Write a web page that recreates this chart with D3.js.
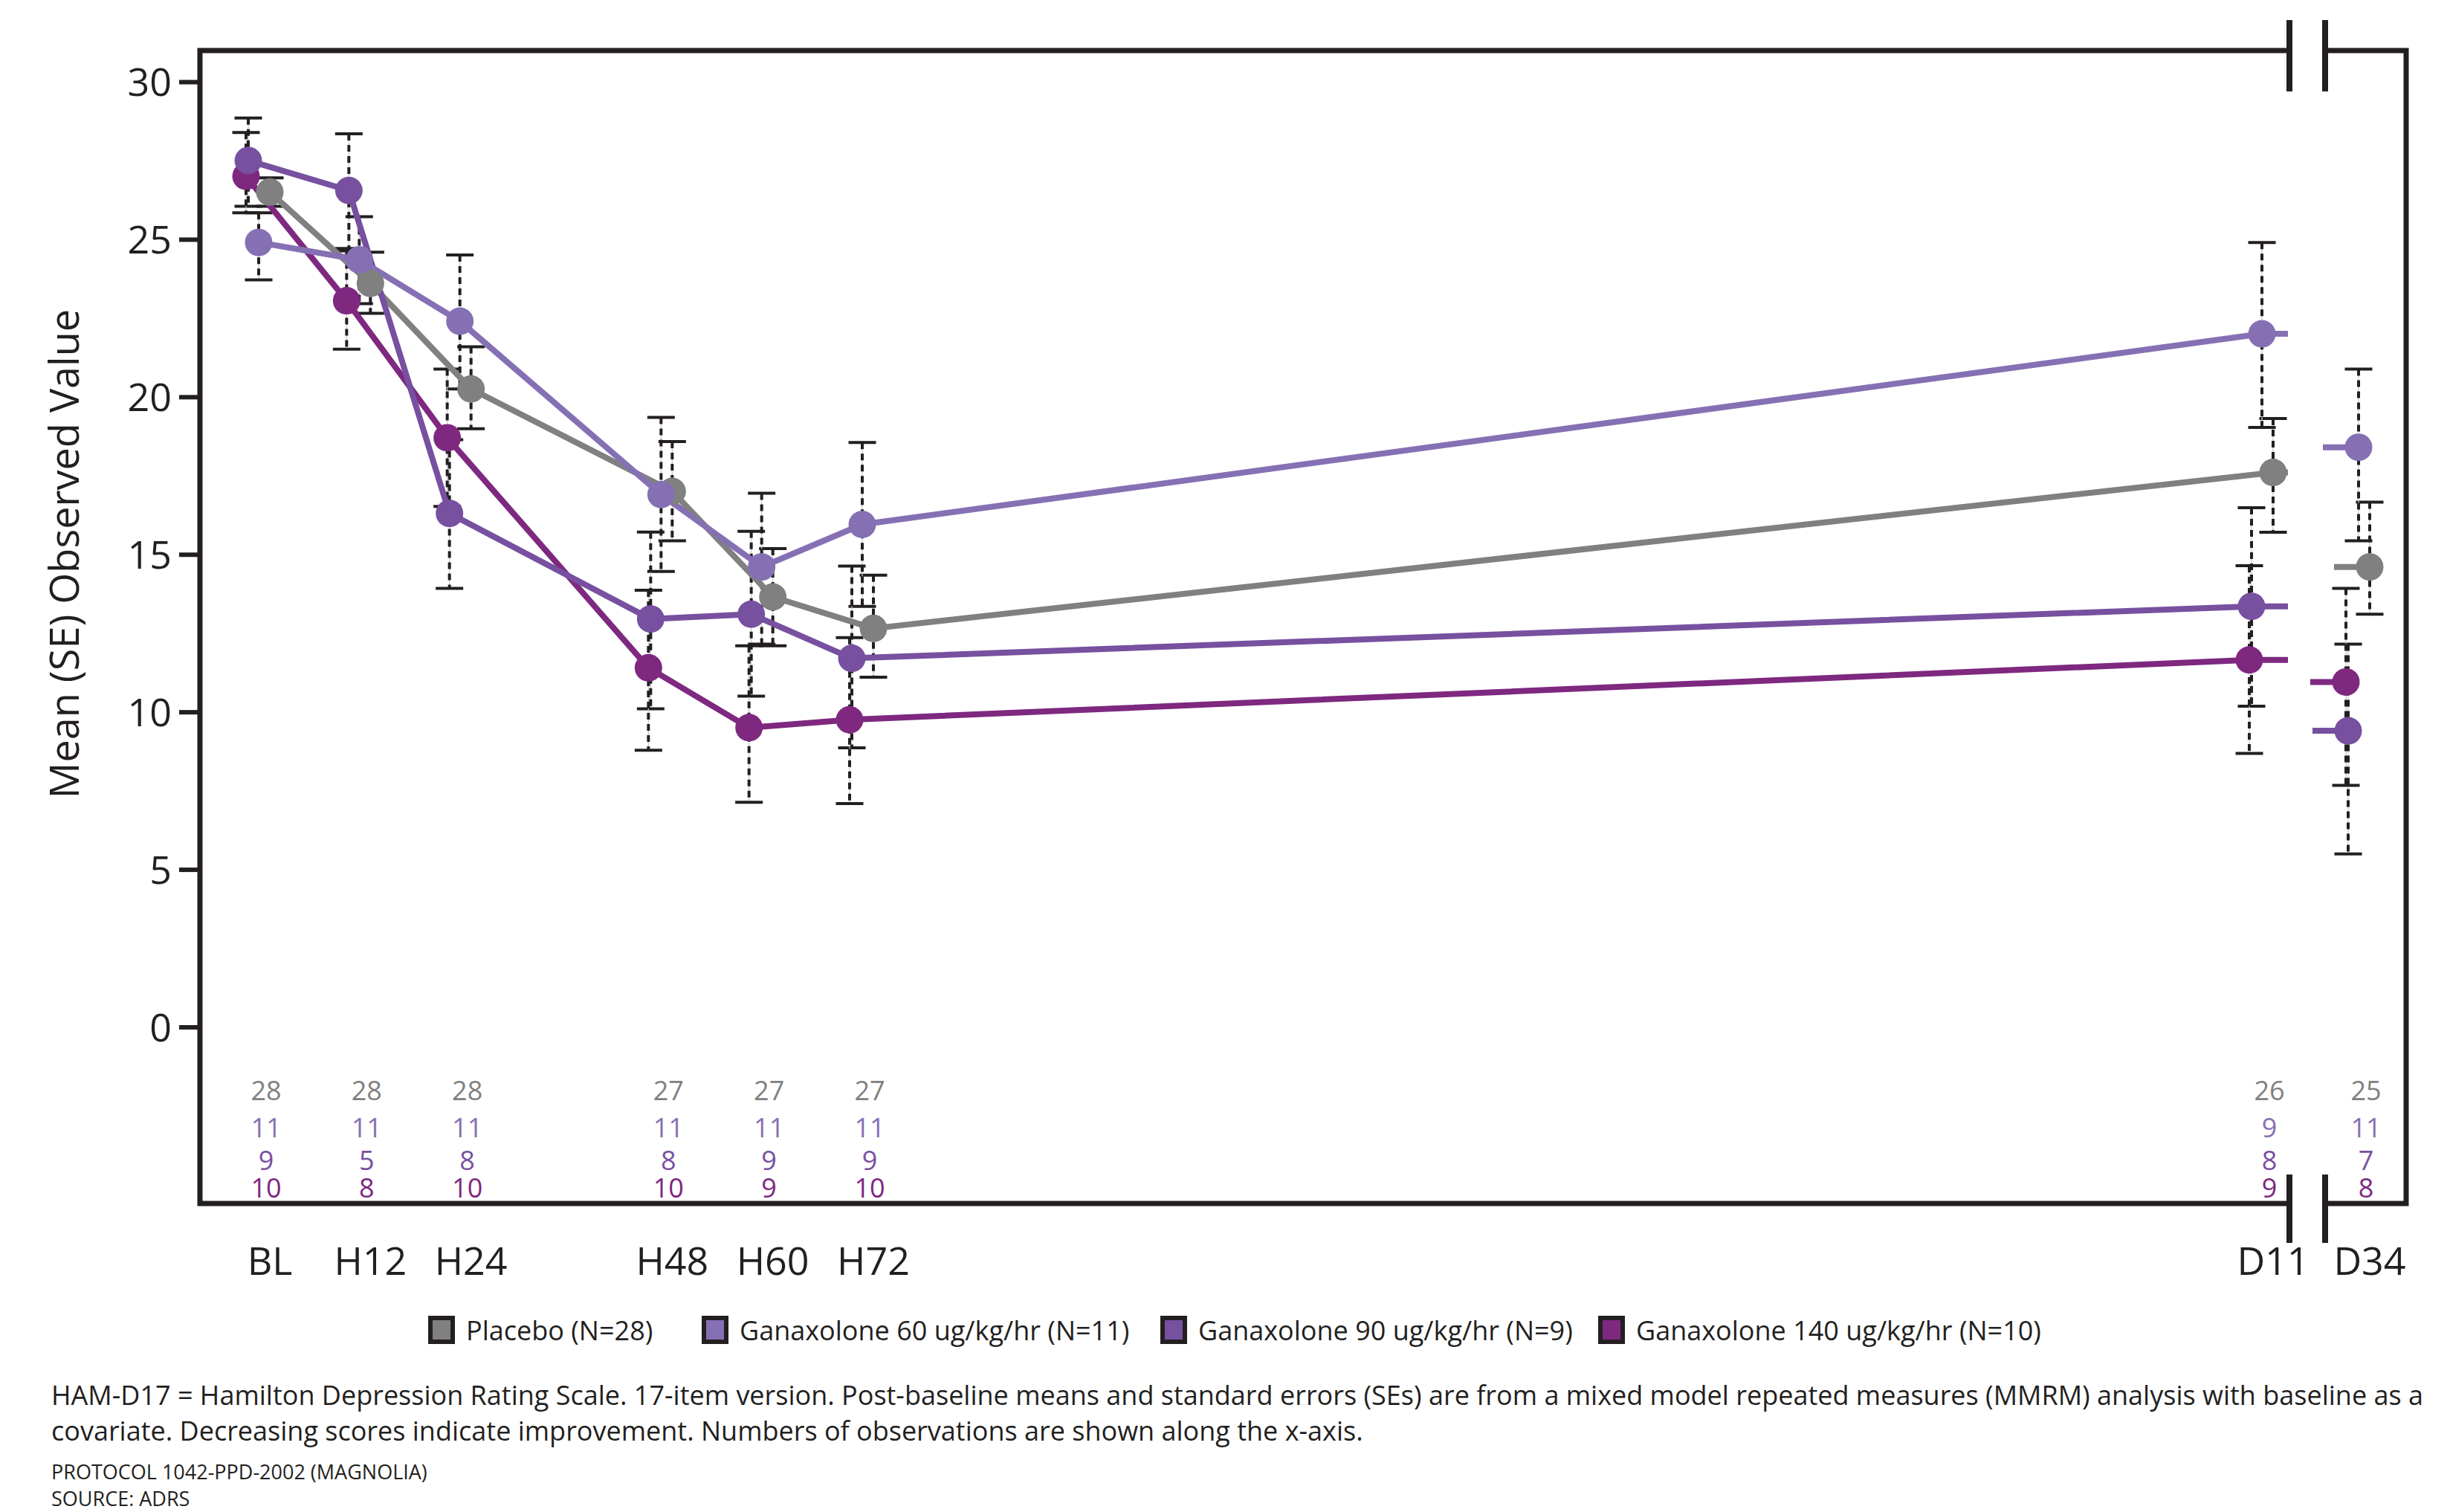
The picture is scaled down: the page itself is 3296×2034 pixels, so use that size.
<!DOCTYPE html>
<html><head><meta charset="utf-8">
<script src="https://cdn.jsdelivr.net/npm/d3@7"></script>
<style>
body{margin:0;background:#fff}
svg{display:block}
text{font-family:"Open Sans",sans-serif}
</style>
</head><body>
<script>
// ---------- data ----------
const timeLabels = ["BL","H12","H24","H48","H60","H72","D11","D34"];
const timeHours  = [0,12,24,48,60,72,264,816];
const seriesNames = ["Placebo (N=28)","Ganaxolone 60 ug/kg/hr (N=11)","Ganaxolone 90 ug/kg/hr (N=9)","Ganaxolone 140 ug/kg/hr (N=10)"];

const placeboMean = [26.5, 23.6, 20.25, 17.0, 13.65, 12.65, 17.6, 14.6];
const placeboLo   = [26.05,22.65,18.99, 15.43,12.1, 11.1, 15.7, 13.1];
const placeboHi   = [26.95,24.59,21.59, 18.58,15.18,14.34,19.31,16.66];

const g60Mean = [24.9, 24.35,22.4, 16.9, 14.6, 15.95,22.0, 18.4];
const g60Lo   = [23.71,22.96,20.25,14.46,12.15,13.35,19.03,15.43];
const g60Hi   = [25.84,25.72,24.5, 19.35,16.94,18.55,24.9, 20.88];

const g90Mean = [27.5, 26.55,16.3, 12.95,13.1, 11.7, 13.35,9.4];
const g90Lo   = [26.05,24.71,13.92,10.1, 10.5, 8.86, 10.18,5.49];
const g90Hi   = [28.85,28.35,18.64,15.71,15.73,14.63,16.48,12.15];

const g140Mean = [27.0, 23.05,18.7, 11.4, 9.5, 9.75, 11.65,10.95];
const g140Lo   = [25.84,21.51,16.52,8.78, 7.13,7.09, 8.68, 7.67];
const g140Hi   = [28.39,24.63,20.88,13.86,12.1,12.36,14.64,13.92];

const placeboN = [28,28,28,27,27,27,26,25];
const g60N     = [11,11,11,11,11,11,9,11];
const g90N     = [9,5,8,8,9,9,8,7];
const g140N    = [10,8,10,10,9,10,9,8];

const yTicks = [0,5,10,15,20,25,30];
const yTitle = "Mean (SE) Observed Value";
const footLines = [
  "HAM-D17 = Hamilton Depression Rating Scale. 17-item version. Post-baseline means and standard errors (SEs) are from a mixed model repeated measures (MMRM) analysis with baseline as a",
  "covariate. Decreasing scores indicate improvement. Numbers of observations are shown along the x-axis."
];
const protocolText = "PROTOCOL 1042-PPD-2002 (MAGNOLIA)";
const sourceText = "SOURCE: ADRS";

// ---------- styles ----------
const colors = ["#808080","#8670b4","#7750a0","#7e2880"];
const offsets = [16, 1, -13, -16];
const ink = "#231f20";

const series = [
  {name:seriesNames[0], mean:placeboMean, lo:placeboLo, hi:placeboHi, n:placeboN},
  {name:seriesNames[1], mean:g60Mean, lo:g60Lo, hi:g60Hi, n:g60N},
  {name:seriesNames[2], mean:g90Mean, lo:g90Lo, hi:g90Hi, n:g90N},
  {name:seriesNames[3], mean:g140Mean, lo:g140Lo, hi:g140Hi, n:g140N}
].map((s,i)=>({...s, color:colors[i], off:offsets[i],
  pts: timeHours.map((t,j)=>({t, m:s.mean[j], lo:s.lo[j], hi:s.hi[j]}))}));

const W = 3296, H = 2034;
const L = 269, R = 3237, T = 68, B = 1619, BR1 = 3080, BR2 = 3128;

const svg = d3.select("body").append("svg").attr("width",W).attr("height",H);

const x = d3.scaleLinear().domain([0,72,264,816]).range([347,1159,3042,3172]);
const y = d3.scaleLinear().domain([0,30]).range([1381.5,110]);

// ---------- frame ----------
const frame = svg.append("g").attr("stroke",ink).attr("stroke-width",7).attr("fill","none");
frame.append("path").attr("d",`M${BR1},${T}H${L}V${B}H${BR1}`);
frame.append("path").attr("d",`M${BR2},${T}H${R}V${B}H${BR2}`);
[BR1,BR2].forEach(bx=>{
  frame.append("line").attr("x1",bx).attr("x2",bx).attr("y1",27).attr("y2",123).attr("stroke-width",8);
  frame.append("line").attr("x1",bx).attr("x2",bx).attr("y1",1580).attr("y2",1672).attr("stroke-width",8);
});

// ---------- y axis ----------
const yAxis = svg.append("g").attr("transform",`translate(${L},0)`)
  .call(d3.axisLeft(y).tickValues(yTicks).tickSize(28).tickPadding(10));
yAxis.select(".domain").remove();
yAxis.selectAll(".tick line").attr("stroke",ink).attr("stroke-width",6);
yAxis.selectAll(".tick text").attr("fill",ink).attr("font-size",52)
  .attr("font-family","Open Sans, sans-serif").attr("dy","0.36em");

svg.append("text").attr("transform",`translate(106,745) rotate(-90)`)
  .attr("text-anchor","middle").attr("font-size",54).attr("fill",ink).text(yTitle);

// ---------- x labels ----------
svg.append("g").selectAll("text").data(timeLabels).join("text")
  .attr("x",(d,i)=>x(timeHours[i])+16).attr("y",1715)
  .attr("text-anchor","middle").attr("font-size",52).attr("fill",ink).text(d=>d);

// ---------- counts ----------
const countY = [1480,1530,1574,1611];
series.forEach((s,si)=>{
  svg.append("g").selectAll("text").data(s.n).join("text")
    .attr("x",(d,i)=>x(timeHours[i])+11).attr("y",countY[si])
    .attr("text-anchor","middle").attr("font-size",36).attr("fill",s.color).text(d=>d);
});

// ---------- error bars ----------
const eb = svg.append("g");
series.forEach(s=>{
  s.pts.forEach(p=>{
    const cx = x(p.t)+s.off;
    eb.append("line").attr("x1",cx).attr("x2",cx).attr("y1",y(p.hi)).attr("y2",y(p.lo))
      .attr("stroke","#c8c8c8").attr("stroke-width",1.2);
    eb.append("line").attr("x1",cx).attr("x2",cx).attr("y1",y(p.hi)).attr("y2",y(p.lo))
      .attr("stroke",ink).attr("stroke-width",4).attr("stroke-dasharray","9,6");
    [p.hi,p.lo].forEach(v=>{
      eb.append("line").attr("x1",cx-18.5).attr("x2",cx+18.5).attr("y1",y(v)).attr("y2",y(v))
        .attr("stroke",ink).attr("stroke-width",4);
    });
  });
});

// ---------- lines ----------
const order = [0,3,2,1];
const lg = svg.append("g").attr("fill","none").attr("stroke-width",8);
order.forEach(si=>{
  const s = series[si];
  const line = d3.line().x(d=>x(d.t)+s.off).y(d=>y(d.m));
  lg.append("path").attr("d",line(s.pts.slice(0,7))).attr("stroke",s.color).attr("stroke-linejoin","round");
  const d11 = s.pts[6], d34 = s.pts[7];
  lg.append("line").attr("x1",x(d11.t)+s.off).attr("x2",BR1-2).attr("y1",y(d11.m)).attr("y2",y(d11.m)).attr("stroke",s.color);
  lg.append("line").attr("x1",x(d34.t)+s.off-48).attr("x2",x(d34.t)+s.off).attr("y1",y(d34.m)).attr("y2",y(d34.m)).attr("stroke",s.color);
});

// ---------- markers ----------
order.forEach(si=>{
  const s = series[si];
  svg.append("g").selectAll("circle").data(s.pts).join("circle")
    .attr("cx",d=>x(d.t)+s.off).attr("cy",d=>y(d.m)).attr("r",18.5).attr("fill",s.color);
});

// ---------- legend ----------
const legX = [576, 944, 1561, 2150];
const leg = svg.append("g");
series.forEach((s,i)=>{
  leg.append("rect").attr("x",legX[i]+3).attr("y",1773).attr("width",30).attr("height",32)
    .attr("fill",s.color).attr("stroke",ink).attr("stroke-width",6);
  leg.append("text").attr("x",legX[i]+51).attr("y",1803).attr("font-size",36).attr("fill",ink).text(s.name);
});

// ---------- footnotes ----------
svg.append("g").selectAll("text").data(footLines).join("text")
  .attr("x",69).attr("y",(d,i)=>1890+i*48).attr("font-size",36).attr("fill",ink).text(d=>d);
svg.append("text").attr("x",69).attr("y",1990).attr("font-size",27).attr("fill",ink).text(protocolText);
svg.append("text").attr("x",69).attr("y",2026).attr("font-size",27).attr("fill",ink).text(sourceText);
</script>
</body></html>
